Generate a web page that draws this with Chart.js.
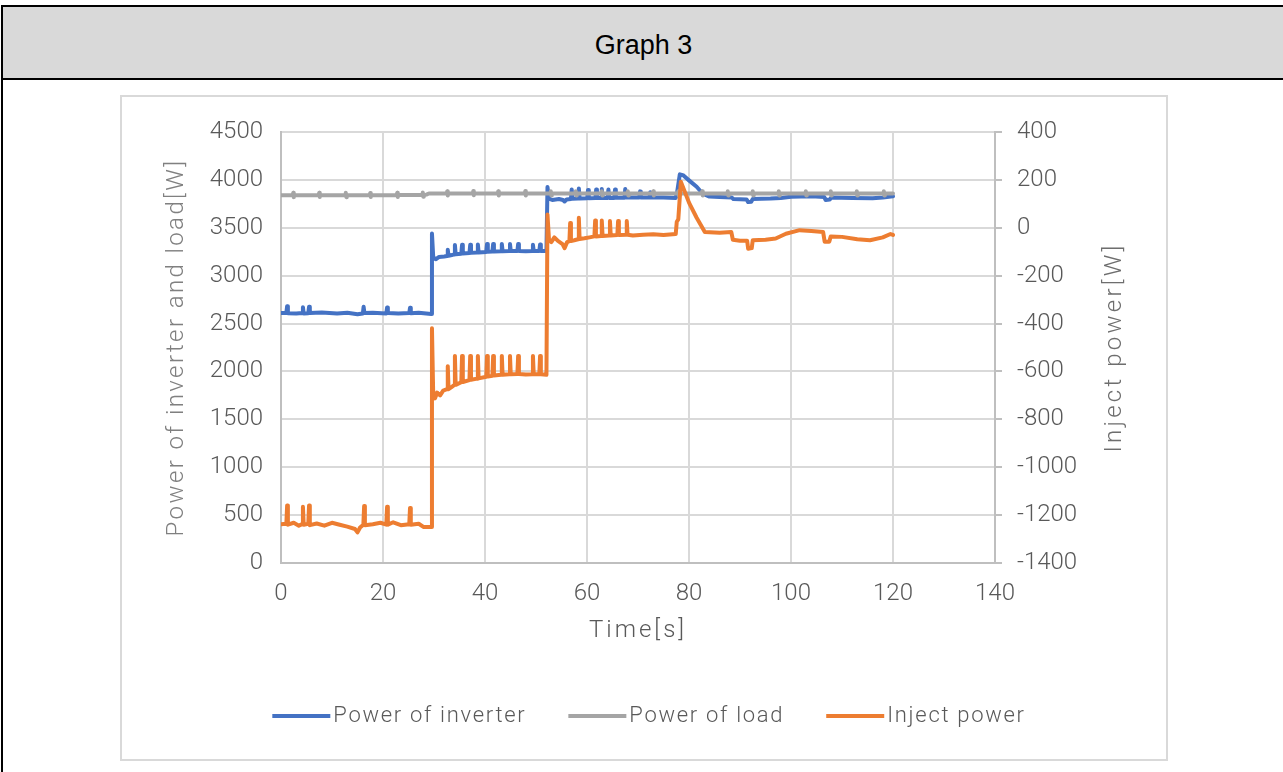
<!DOCTYPE html>
<html>
<head>
<meta charset="utf-8">
<title>Graph 3</title>
<script src="https://cdn.jsdelivr.net/npm/chart.js@4.4.1/dist/chart.umd.min.js"></script>
<style>
  html, body { margin: 0; padding: 0; background: #fff; width: 1283px; height: 772px; overflow: hidden; position: relative; }
  #sheet { position: absolute; left: 1px; top: 5px; width: 1320px; height: 820px; border: 2px solid #000; box-sizing: border-box; }
  #head { position: absolute; left: 1px; top: 5px; width: 1320px; height: 75px; border: 2px solid #000; box-sizing: border-box; background: #d9d9d9; }
  #head span { position: absolute; left: -1px; width: 1283px; top: 3px; line-height: 71px; text-align: center; color: #000;
               font-family: "Liberation Sans Narrow", "Liberation Sans", sans-serif; font-size: 27px; }
  #frame { position: absolute; left: 120px; top: 95px; width: 1048px; height: 666px; border: 2px solid #d9d9d9; box-sizing: border-box; background: #fff; }
  #plot { position: absolute; left: 122px; top: 99px; width: 1044px; height: 662px; }
</style>
</head>
<body>
<div id="sheet"></div>
<div id="head"><span>Graph 3</span></div>
<div id="frame"></div>
<canvas id="plot" width="1044" height="662"></canvas>
<script>
// Series labels and axis titles
const seriesNames = ['Power of inverter', 'Power of load', 'Inject power'];
const xTitle = 'Time[s]';
const leftTitle = 'Power of inverter and load[W]';
const rightTitle = 'Inject power[W]';

// Axis ranges / tick steps
const timeTicks = [0, 140, 20];
const powerTicks = [0, 4500, 500];
const injectTicks = [-1400, 400, 200];

// [time s, inverter output W]
const inverterTrace = [
  [0,2610],[1.05,2612],[1.2,2680],[1.35,2608],[3,2605],[4.15,2610],[4.3,2670],[4.45,2606],[5.35,2608],[5.5,2675],[5.65,2610],
  [8,2615],[11,2604],[13,2612],[15,2598],[16.05,2606],[16.2,2675],[16.35,2610],[18,2612],[20.65,2606],[20.8,2668],[20.95,2610],
  [23,2604],[25.15,2610],[25.3,2665],[25.45,2608],[27,2612],[29.45,2600],
  [29.6,3440],[29.85,3190],[30.4,3172],[31,3195],[32,3200],[32.55,3205],[32.7,3270],[32.85,3208],[33.5,3215],
  [33.95,3222],[34.1,3320],[34.25,3224],[35.35,3230],[35.5,3322],[35.65,3232],[36.95,3236],[37.1,3322],[37.25,3238],
  [38.45,3242],[38.6,3325],[38.75,3243],[40.25,3248],[40.4,3330],[40.55,3250],[41.45,3252],[41.6,3330],[41.75,3253],
  [43.15,3255],[43.3,3330],[43.45,3256],[44.75,3257],[44.9,3330],[45.05,3258],[46.35,3258],[46.5,3330],[46.65,3258],
  [48,3255],[49.25,3258],[49.4,3322],[49.55,3258],[50.65,3258],[50.8,3325],[50.95,3258],[52.05,3258],
  [52.25,3925],[52.55,3805],[53.2,3790],[54.5,3800],[55.3,3790],[55.6,3775],[56,3795],
  [56.85,3800],[57,3900],[57.15,3802],[58.25,3805],[58.4,3910],[58.55,3806],[60.05,3808],[60.2,3895],[60.35,3808],
  [61.65,3810],[61.8,3900],[61.95,3810],[62.75,3810],[62.9,3905],[63.05,3811],[64.05,3811],[64.2,3900],[64.35,3812],
  [65.35,3812],[65.5,3900],[65.65,3813],[67.35,3814],[67.5,3905],[67.65,3815],[70.25,3815],[70.4,3880],[70.55,3815],
  [72.25,3815],[72.4,3870],[72.55,3815],[75,3815],[77.4,3812],
  [77.7,3880],[78.2,4058],[78.8,4050],[80,3995],[81.5,3928],[82.7,3855],[84,3826],[86,3822],[88.4,3815],[88.7,3800],
  [91.3,3795],[91.6,3768],[92.2,3772],[92.5,3800],[96,3805],[98,3812],[100,3825],[104,3828],[106.5,3822],[106.8,3790],
  [107.6,3795],[107.9,3815],[112,3812],[116,3808],[118,3815],[120,3828]
];

// [time s, load demand W]
const loadTrace = [
  [0,3840],[2.3,3840],[2.4,3865],[2.5,3820],[2.6,3840],[7.4,3841],[7.5,3866],[7.6,3821],[7.7,3841],
  [12.6,3840],[12.7,3865],[12.8,3820],[12.9,3840],[17.4,3840],[17.5,3864],[17.6,3822],[17.7,3840],
  [22.7,3841],[22.8,3866],[22.9,3821],[23,3841],[27.7,3842],[27.8,3868],[27.9,3824],[28,3842],[28.5,3846],[29,3858],
  [32.5,3858],[32.6,3882],[32.7,3838],[32.8,3858],[37.6,3859],[37.7,3883],[37.8,3839],[37.9,3859],
  [42.5,3858],[42.6,3882],[42.7,3838],[42.8,3858],[47.8,3858],[47.9,3883],[48,3838],[48.1,3858],
  [52.8,3858],[52.9,3882],[53,3838],[53.1,3858],[57.7,3857],[57.8,3881],[57.9,3837],[58,3857],
  [62.8,3858],[62.9,3882],[63,3838],[63.1,3858],[67.9,3858],[68,3882],[68.1,3838],[68.2,3858],
  [72.9,3858],[73,3882],[73.1,3838],[73.2,3858],[77.8,3858],[77.9,3882],[78,3838],[78.1,3858],
  [82.5,3858],[82.6,3882],[82.7,3838],[82.8,3858],[87.5,3857],[87.6,3881],[87.7,3837],[87.8,3857],
  [92.4,3858],[92.5,3882],[92.6,3838],[92.7,3858],[97.5,3858],[97.6,3882],[97.7,3838],[97.8,3858],
  [102.8,3858],[102.9,3882],[103,3838],[103.1,3858],[107.7,3858],[107.8,3882],[107.9,3838],[108,3858],
  [112.8,3858],[112.9,3882],[113,3838],[113.1,3858],[118.1,3858],[118.2,3882],[118.3,3838],[118.4,3858],[120,3858]
];

// [time s, power injected to the grid W]
const injectTrace = [
  [0,-1238],[1.05,-1236],[1.2,-1160],[1.35,-1240],[2.5,-1232],[3.5,-1244],[4.15,-1238],[4.3,-1165],[4.45,-1240],
  [5.35,-1236],[5.5,-1160],[5.65,-1242],[7,-1235],[8.5,-1244],[10,-1232],[11.5,-1240],[13,-1248],[14.5,-1258],
  [15,-1272],[15.5,-1252],[16.15,-1240],[16.3,-1162],[16.45,-1242],[18,-1238],[19.5,-1232],[20.65,-1240],[20.8,-1165],
  [20.95,-1240],[22,-1230],[23.5,-1242],[25.15,-1238],[25.3,-1170],[25.45,-1240],[27,-1236],[28,-1250],[29.45,-1250],
  [29.6,-420],[29.85,-702],[30.2,-712],[30.6,-688],[31.2,-700],[31.8,-680],[32.55,-674],[32.7,-578],[32.85,-674],
  [33.5,-664],[33.95,-657],[34.1,-535],[34.25,-656],[35.35,-645],[35.5,-535],[35.65,-644],[36.95,-636],[37.1,-535],
  [37.25,-635],[38.45,-630],[38.6,-535],[38.75,-629],[40.25,-622],[40.4,-535],[40.55,-621],[41.45,-618],[41.6,-535],
  [41.75,-617],[43.15,-614],[43.3,-535],[43.45,-614],[44.75,-612],[44.9,-535],[45.05,-612],[46.35,-611],[46.5,-535],
  [46.65,-611],[48,-613],[49.25,-612],[49.4,-535],[49.55,-612],[50.65,-612],[50.8,-535],[50.95,-612],[52.05,-614],
  [52.25,55],[52.55,-50],[53,-60],[53.6,-40],[54.3,-55],[55.2,-68],[55.6,-85],[56.1,-60],[56.55,-56],[56.7,20],
  [56.85,-55],[57.5,-52],[58.25,-48],[58.4,42],[58.55,-47],[59.5,-44],[60.5,-40],[61.45,-36],[61.6,30],[61.75,-36],
  [62.75,-34],[62.9,30],[63.05,-34],[64.35,-32],[64.5,28],[64.65,-32],[65.95,-30],[66.1,28],[66.25,-30],[67.65,-29],
  [67.8,28],[67.95,-29],[69,-32],[71,-29],[73,-27],[75,-30],[77.4,-26],
  [77.6,25],[77.9,35],[78.4,192],[79,160],[80,105],[81.5,42],[83.1,-18],[86,-21],[88.3,-18],[88.6,-50],[90,-54],
  [91.4,-54],[91.6,-88],[92.3,-85],[92.5,-52],[95,-50],[97,-45],[99,-25],[101.7,-10],[104,-13],[106.3,-18],[106.6,-58],
  [107.5,-58],[107.8,-36],[110,-38],[113,-48],[115.5,-52],[118,-40],[119.5,-26],[120,-30]
];

const seriesColors = ['#4472c4', '#a5a5a5', '#ed7d31'];

const toPoints = trace => trace.map(([t, w]) => ({ x: t, y: w }));

const tickFont = { family: 'Roboto, "Liberation Sans", sans-serif', size: 24, weight: 300 };
const tickColor = '#595959';
const textFamily = 'Roboto, "Liberation Sans", sans-serif';

// Axis titles and the legend row are painted directly on the canvas
const chartDecor = {
  id: 'chartDecor',
  afterDraw(chart) {
    const { ctx, chartArea: a } = chart;
    const midY = (a.top + a.bottom) / 2;
    ctx.save();
    ctx.textAlign = 'center';
    ctx.textBaseline = 'middle';
    ctx.font = `300 24px ${textFamily}`;

    ctx.letterSpacing = '2.4px';
    ctx.fillStyle = '#808080';
    ctx.save();
    ctx.translate(55, midY);
    ctx.rotate(-Math.PI / 2);
    ctx.fillText(leftTitle, 0, 0);
    ctx.restore();

    ctx.letterSpacing = '3.2px';
    ctx.fillStyle = '#6e6e6e';
    ctx.save();
    ctx.translate(993, midY);
    ctx.rotate(-Math.PI / 2);
    ctx.fillText(rightTitle, 0, 0);
    ctx.restore();

    ctx.letterSpacing = '3px';
    ctx.fillStyle = '#595959';
    ctx.fillText(xTitle, (a.left + a.right) / 2, 532);

    // legend
    ctx.font = `300 22px ${textFamily}`;
    ctx.letterSpacing = '1.7px';
    ctx.textAlign = 'left';
    const lineLen = 58, gapText = 3, gapItem = 42;
    const widths = seriesNames.map(n => ctx.measureText(n).width);
    const total = widths.reduce((s, w) => s + lineLen + gapText + w, 0) + gapItem * (seriesNames.length - 1);
    let x = 527 - total / 2;
    const y = 617;
    seriesNames.forEach((name, i) => {
      ctx.fillStyle = seriesColors[i];
      ctx.fillRect(x, y - 2, lineLen, 4);
      ctx.fillStyle = '#595959';
      ctx.fillText(name, x + lineLen + gapText, y);
      x += lineLen + gapText + widths[i] + gapItem;
    });
    ctx.restore();
  }
};

new Chart(document.getElementById('plot'), {
  type: 'line',
  data: {
    datasets: [
      { label: seriesNames[0], data: toPoints(inverterTrace), yAxisID: 'yPower', borderColor: seriesColors[0], order: 2 },
      { label: seriesNames[1], data: toPoints(loadTrace), yAxisID: 'yPower', borderColor: seriesColors[1], order: 1 },
      { label: seriesNames[2], data: toPoints(injectTrace), yAxisID: 'yInject', borderColor: seriesColors[2], order: 0 }
    ]
  },
  options: {
    responsive: false,
    animation: false,
    events: [],
    layout: { padding: { top: 33, left: 0, right: 0, bottom: 0 } },
    elements: {
      line: { borderWidth: 4, tension: 0, borderJoinStyle: 'round', borderCapStyle: 'round', fill: false },
      point: { radius: 0 }
    },
    plugins: { legend: { display: false }, title: { display: false }, tooltip: { enabled: false } },
    scales: {
      x: {
        type: 'linear', min: timeTicks[0], max: timeTicks[1],
        ticks: { stepSize: timeTicks[2], font: tickFont, color: tickColor, padding: 17, callback: v => String(v) },
        grid: { color: '#d9d9d9', lineWidth: 2, drawTicks: false },
        border: { color: '#bfbfbf', width: 2 },
        afterFit(s) { s.height = 198; }
      },
      yPower: {
        position: 'left', min: powerTicks[0], max: powerTicks[1],
        ticks: { stepSize: powerTicks[2], font: tickFont, color: tickColor, padding: 18, callback: v => String(v) },
        grid: { color: '#d9d9d9', lineWidth: 2, drawTicks: false },
        border: { color: '#bfbfbf', width: 2 },
        afterFit(s) { s.width = 159; }
      },
      yInject: {
        position: 'right', min: injectTicks[0], max: injectTicks[1],
        ticks: { stepSize: injectTicks[2], font: tickFont, color: tickColor, padding: 15, callback: v => String(v) },
        grid: { drawOnChartArea: false, color: '#bfbfbf', lineWidth: 2, tickLength: 7 },
        border: { color: '#bfbfbf', width: 2 },
        afterFit(s) { s.width = 171; }
      }
    }
  },
  plugins: [chartDecor]
});
</script>
</body>
</html>
